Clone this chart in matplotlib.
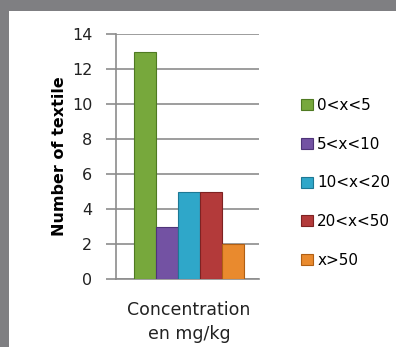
import matplotlib.pyplot as plt
from matplotlib.patches import Rectangle

# data
ranges = ['0<x<5', '5<x<10', '10<x<20', '20<x<50', 'x>50']
counts = [13, 3, 5, 5, 2]
colors = ['#77a83c', '#7352a3', '#2fa7c9', '#b33a3a', '#e98a2e']
edges = ['#4f7a22', '#4e3478', '#1d7894', '#7e2222', '#b05f14']

fig = plt.figure(figsize=(3.96, 3.47), dpi=100)
fig.patch.set_facecolor('#7f7f82')
# white panel inside the gray frame
fig.patches.append(Rectangle((9/396, 0), 1, 1 - 11/347, transform=fig.transFigure,
                             facecolor='white', edgecolor='none', zorder=-10))

ax = fig.add_axes([116/396, 1 - 279/347, 143/396, 245/347])
ax.set_facecolor('none')

w = 0.154
for i, (lab, val) in enumerate(zip(ranges, counts)):
    ax.bar((i - 2) * w, val, width=w, color=colors[i], edgecolor=edges[i],
           linewidth=0.8, label=lab, zorder=3)

ax.set_xlim(-0.51, 0.49)
ax.set_ylim(0, 14)
ax.set_yticks(range(0, 15, 2))
ax.yaxis.grid(True, color='#8c8c8c', linewidth=1.2, zorder=0)
ax.set_axisbelow(True)
ax.set_xticks([0])
ax.set_xticklabels(['Concentration\nen mg/kg'], fontsize=12.5, color='#222222',
                   linespacing=1.4)
ax.tick_params(axis='x', length=0, pad=16)
ax.tick_params(axis='y', length=7, width=1.2, color='#8c8c8c', labelsize=11.5,
               labelcolor='#222222', pad=10)
for s in ['top', 'right']:
    ax.spines[s].set_visible(False)
ax.spines['left'].set_color('#8c8c8c')
ax.spines['bottom'].set_color('#8c8c8c')
ax.spines['left'].set_linewidth(1.2)
ax.spines['bottom'].set_linewidth(1.2)

ax.set_ylabel('Number of textile', fontsize=11.5, fontweight='bold')
ax.yaxis.set_label_coords(-0.34, 0.5)

ax.legend(loc='upper left', bbox_to_anchor=(295/396, 1 - 92/347),
          bbox_transform=fig.transFigure, frameon=False, fontsize=11,
          handlelength=0.75, handleheight=0.75, handletextpad=0.3,
          labelspacing=1.55, borderaxespad=0)

fig.savefig('out.png', dpi=100, facecolor=fig.get_facecolor())
